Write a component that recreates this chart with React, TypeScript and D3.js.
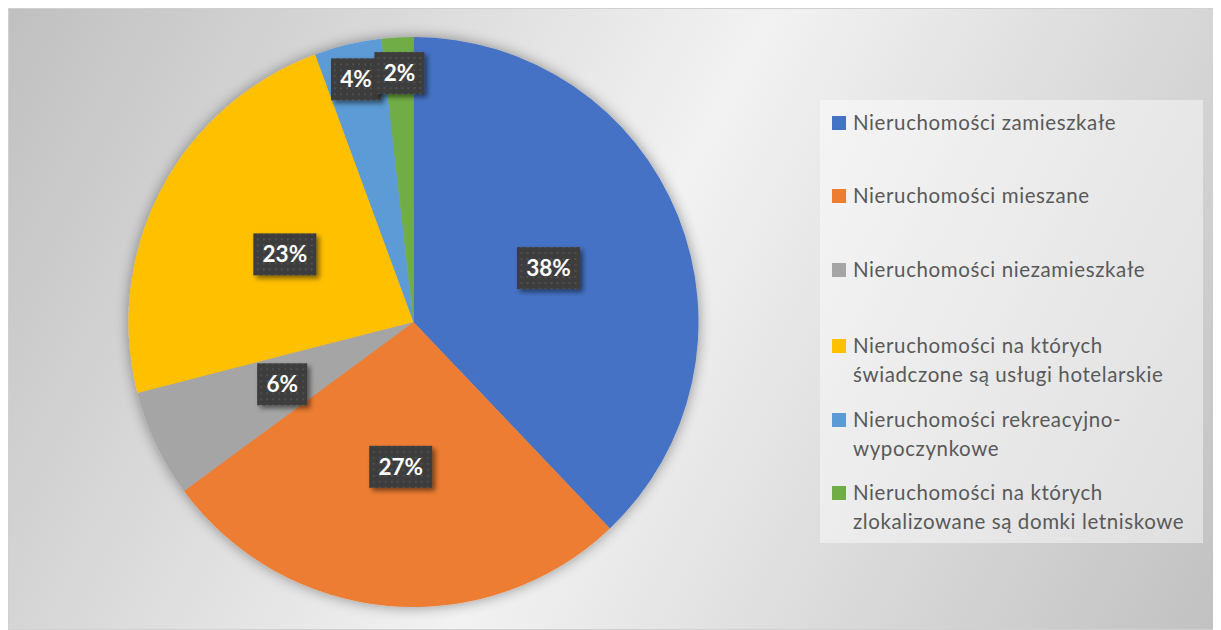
import React from "react";
import * as d3 from "d3";

const categories = [
  "Nieruchomości zamieszkałe",
  "Nieruchomości mieszane",
  "Nieruchomości niezamieszkałe",
  "Nieruchomości na których świadczone są usługi hotelarskie",
  "Nieruchomości rekreacyjno-wypoczynkowe",
  "Nieruchomości na których zlokalizowane są domki letniskowe",
];
const legendLines = [
  ["Nieruchomości zamieszkałe"],
  ["Nieruchomości mieszane"],
  ["Nieruchomości niezamieszkałe"],
  ["Nieruchomości na których", "świadczone są usługi hotelarskie"],
  ["Nieruchomości rekreacyjno-", "wypoczynkowe"],
  ["Nieruchomości na których", "zlokalizowane są domki letniskowe"],
];
const values = [37.9, 27.0, 6.1, 23.4, 3.8, 1.8];
const percentLabels = ["38%", "27%", "6%", "23%", "4%", "2%"];
const colors = ["#4472C4", "#ED7D31", "#A5A5A5", "#FFC000", "#5B9BD5", "#70AD47"];

const W = 1211;
const H = 622;
const cx = 405.5;
const cy = 314;
const R = 285;

export default function App() {
  const pie = d3.pie<number>().sort(null).value((d) => d)(values);
  const arc = d3.arc<d3.PieArcDatum<number>>().innerRadius(0).outerRadius(R);
  const legendBaselines = [122, 195, 269, 345, 419, 492];
  const legendX = 824;

  return (
    <svg width={W} height={H} style={{ display: "block" }} fontFamily="Lato, 'Open Sans', sans-serif">
      <defs>
        <linearGradient id="bg" gradientUnits="userSpaceOnUse" x1={0} y1={0} x2={W} y2={H}>
          <stop offset="0" stopColor="#c0c0c0" />
          <stop offset="0.5" stopColor="#f2f2f2" />
          <stop offset="1" stopColor="#c1c1c1" />
        </linearGradient>
        <filter id="pieShadow" x="-20%" y="-20%" width="140%" height="140%">
          <feGaussianBlur in="SourceAlpha" stdDeviation="7" />
          <feComponentTransfer>
            <feFuncA type="linear" slope="0.4" />
          </feComponentTransfer>
          <feMerge>
            <feMergeNode />
            <feMergeNode in="SourceGraphic" />
          </feMerge>
        </filter>
        <filter id="boxShadow" x="-30%" y="-30%" width="160%" height="160%">
          <feGaussianBlur in="SourceAlpha" stdDeviation="2.5" />
          <feOffset dx="3" dy="3" result="o" />
          <feComponentTransfer>
            <feFuncA type="linear" slope="0.5" />
          </feComponentTransfer>
          <feMerge>
            <feMergeNode />
            <feMergeNode in="SourceGraphic" />
          </feMerge>
        </filter>
        <pattern id="dots" width="6" height="6" patternUnits="userSpaceOnUse">
          <rect width="6" height="6" fill="#3d3d3d" />
          <circle cx="3" cy="3" r="1" fill="#555555" />
        </pattern>
      </defs>
      <rect x={0.5} y={0.5} width={W - 1} height={H - 1} fill="url(#bg)" stroke="#d0d0d0" />

      <g transform={`translate(${cx},${cy})`}>
        <g filter="url(#pieShadow)">
          {pie.map((d, i) => (
            <path key={i} d={arc(d) || ""} fill={colors[i]} />
          ))}
        </g>
        {pie.map((d, i) => {
          const lr = d.data < 5 ? R * 0.875 : R * 0.51;
          const [lx, ly] = d3
            .arc<d3.PieArcDatum<number>>()
            .innerRadius(lr)
            .outerRadius(lr)
            .centroid(d);
          const label = percentLabels[i];
          const bw = 13 * label.length + 24;
          const bh = 42;
          return (
            <g key={"l" + i} transform={`translate(${lx},${ly})`}>
              <rect x={-bw / 2} y={-bh / 2} width={bw} height={bh} fill="url(#dots)" filter="url(#boxShadow)" />
              <text
                x={0}
                y={8}
                textAnchor="middle"
                fill="#ffffff"
                fontWeight="bold"
                fontSize={22.5}
              >
                {label}
              </text>
            </g>
          );
        })}
      </g>

      <rect x={812} y={92} width={383} height={443} fill="#ffffff" fillOpacity={0.45} />
      {legendLines.map((lines, i) => (
        <g key={"lg" + i}>
          <rect x={legendX} y={legendBaselines[i] - 14} width={14} height={14} fill={colors[i]} />
          {lines.map((ln, j) => (
            <text
              key={j}
              x={legendX + 21}
              y={legendBaselines[i] + j * 28.5}
              fontSize={20.5}
              letterSpacing={0.6}
              fill="#595959"
            >
              {ln}
            </text>
          ))}
        </g>
      ))}
    </svg>
  );
}
